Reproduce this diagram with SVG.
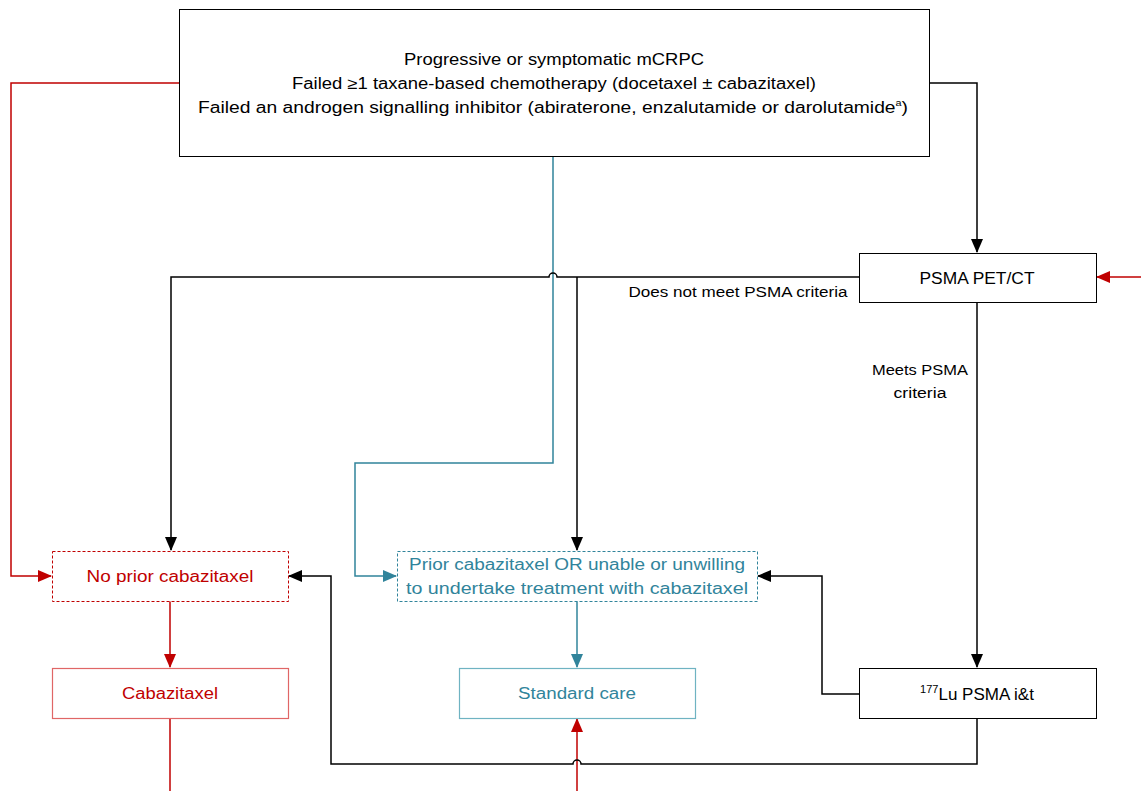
<svg xmlns="http://www.w3.org/2000/svg" width="1141" height="791" viewBox="0 0 1141 791">
<style>
text{font-family:"Liberation Sans",Arial,sans-serif;font-size:16px;text-anchor:middle;fill:#000}
.red{fill:#C00000}
.teal{fill:#31849B}
.lbl{font-size:14px}
.box{fill:#fff;stroke:#000;stroke-width:1}
.ln{fill:none;stroke-width:1.5}
.k{stroke:#000}
.r{stroke:#C00000}
.t{stroke:#31849B}
</style>
<defs>
<marker id="ak" markerWidth="14" markerHeight="12" refX="13" refY="6" orient="auto" markerUnits="userSpaceOnUse"><path d="M0,0 L14,6 L0,12 Z" fill="#000"/></marker>
<marker id="ar" markerWidth="14" markerHeight="12" refX="13" refY="6" orient="auto" markerUnits="userSpaceOnUse"><path d="M0,0 L14,6 L0,12 Z" fill="#C00000"/></marker>
<marker id="at" markerWidth="14" markerHeight="12" refX="13" refY="6" orient="auto" markerUnits="userSpaceOnUse"><path d="M0,0 L14,6 L0,12 Z" fill="#31849B"/></marker>
</defs>
<rect width="1141" height="791" fill="#fff"/>
<g id="connectors">
<path class="ln r" d="M179,83 H11 V576 H51" marker-end="url(#ar)"/>
<path class="ln k" d="M929,83 H977 V252" marker-end="url(#ak)"/>
<path class="ln t" d="M553,156 V463 H355 V576 H396" marker-end="url(#at)"/>
<path class="ln k" d="M859,277 H557 A4,4 0 0 0 549,277 H171 V550" marker-end="url(#ak)"/>
<path class="ln k" d="M577,277 V550" marker-end="url(#ak)"/>
<path class="ln r" d="M1141,277 H1097" marker-end="url(#ar)"/>
<path class="ln k" d="M977,302 V667" marker-end="url(#ak)"/>
<path class="ln r" d="M170,601 V667" marker-end="url(#ar)"/>
<path class="ln r" d="M170,718 V791"/>
<path class="ln t" d="M577,601 V667" marker-end="url(#at)"/>
<path class="ln r" d="M577,791 V719" marker-end="url(#ar)"/>
<path class="ln k" d="M859,694 H822 V576 H758" marker-end="url(#ak)"/>
<path class="ln k" d="M977,718 V764 H581 A4,4 0 0 0 573,764 H331 V576 H289" marker-end="url(#ak)"/>
<text class="lbl" x="738" y="297" textLength="219" lengthAdjust="spacingAndGlyphs">Does not meet PSMA criteria</text>
<text class="lbl" x="920" y="375" textLength="96" lengthAdjust="spacingAndGlyphs">Meets PSMA</text>
<text class="lbl" x="920" y="398" textLength="53" lengthAdjust="spacingAndGlyphs">criteria</text>
</g>
<g id="node-start">
<rect class="box" x="179.5" y="9.5" width="750" height="147"/>
<text x="554" y="65" textLength="300" lengthAdjust="spacingAndGlyphs">Progressive or symptomatic mCRPC</text>
<text x="554" y="89" textLength="524" lengthAdjust="spacingAndGlyphs">Failed ≥1 taxane-based chemotherapy (docetaxel ± cabazitaxel)</text>
<text x="553" y="113" textLength="710" lengthAdjust="spacingAndGlyphs">Failed an androgen signalling inhibitor (abiraterone, enzalutamide or darolutamide<tspan font-size="9" dy="-7">a</tspan><tspan dy="7">)</tspan></text>
</g>
<g id="node-psma">
<rect class="box" x="859.5" y="253.5" width="237" height="49"/>
<text x="977" y="284" textLength="115" lengthAdjust="spacingAndGlyphs">PSMA PET/CT</text>
</g>
<g id="node-noprior">
<rect x="52.5" y="551.5" width="236" height="50" fill="#fff" stroke="#C00000" stroke-width="1" stroke-dasharray="3,2"/>
<text class="red" x="170" y="582" textLength="167" lengthAdjust="spacingAndGlyphs">No prior cabazitaxel</text>
</g>
<g id="node-cabazitaxel">
<rect x="52.5" y="668.5" width="236" height="50" fill="#fff" stroke="#E06666" stroke-width="1.2"/>
<text class="red" x="170" y="699" textLength="96" lengthAdjust="spacingAndGlyphs">Cabazitaxel</text>
</g>
<g id="node-prior">
<rect x="397.5" y="551.5" width="360" height="50" fill="#fff" stroke="#31849B" stroke-width="1" stroke-dasharray="3,2"/>
<text class="teal" x="577" y="570" textLength="336" lengthAdjust="spacingAndGlyphs">Prior cabazitaxel OR unable or unwilling</text>
<text class="teal" x="577" y="594" textLength="342" lengthAdjust="spacingAndGlyphs">to undertake treatment with cabazitaxel</text>
</g>
<g id="node-standard">
<rect x="459.5" y="668.5" width="236" height="50" fill="#fff" stroke="#6FB3C2" stroke-width="1.2"/>
<text class="teal" x="577" y="699" textLength="118" lengthAdjust="spacingAndGlyphs">Standard care</text>
</g>
<g id="node-lu">
<rect class="box" x="859.5" y="668.5" width="237" height="50"/>
<text x="977" y="700" style="font-size:17px"><tspan style="font-size:11px" dy="-7">177</tspan><tspan dy="7">Lu PSMA i&amp;t</tspan></text>
</g>
</svg>
